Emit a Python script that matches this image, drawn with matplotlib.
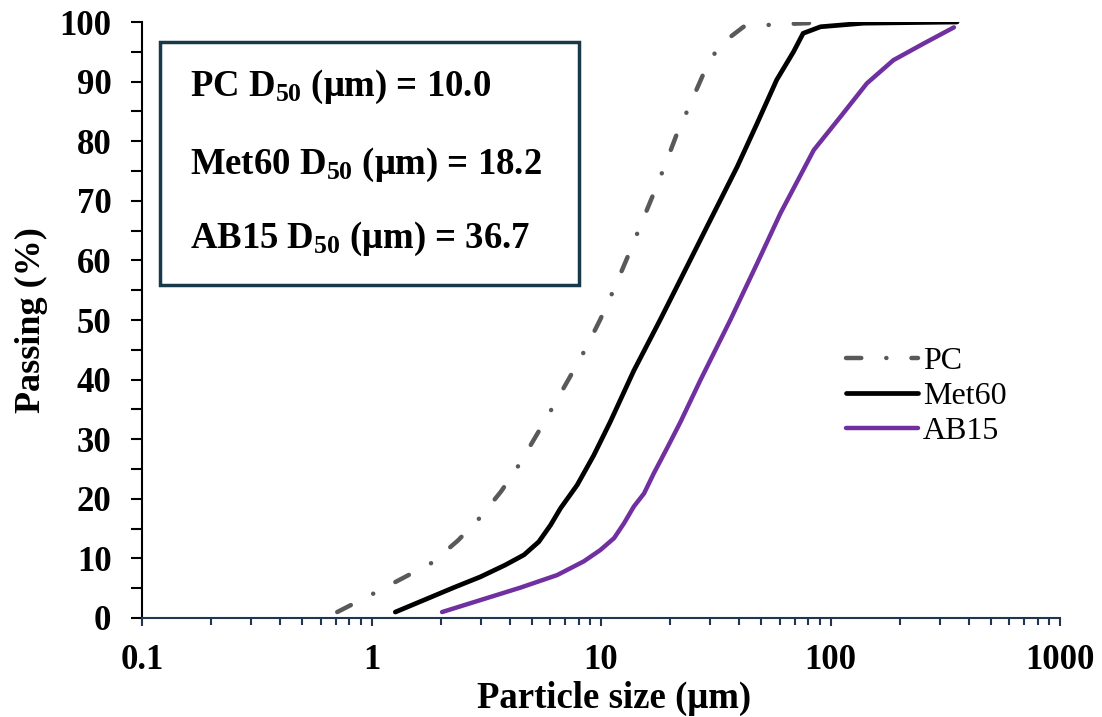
import matplotlib.pyplot as plt
from matplotlib.patches import Rectangle
from matplotlib.ticker import MultipleLocator, LogLocator, NullFormatter, FixedFormatter, FixedLocator

plt.rcParams['font.family'] = ['Liberation Serif', 'DejaVu Serif']
plt.rcParams['mathtext.fontset'] = 'custom'
plt.rcParams['mathtext.rm'] = 'Liberation Serif'
plt.rcParams['mathtext.bf'] = 'Liberation Serif:bold'
plt.rcParams['lines.scale_dashes'] = False

# particle size (um) and cumulative passing (%)
pc_size = [0.709, 1.02, 1.37, 1.84, 2.38, 2.98, 3.68, 4.41, 5.24, 6.19, 7.31, 8.55, 9.93,
           11.4, 13.0, 14.7, 16.7, 18.9, 21.3, 24.4, 27.8, 32.6, 41.8, 58.0, 79.3, 100]
pc_pass = [1.0, 4.1, 6.7, 9.3, 13.0, 16.9, 21.3, 25.8, 30.7, 35.5, 40.4, 45.1, 50.1,
           55.2, 60.4, 65.4, 70.6, 75.7, 81.0, 86.1, 91.1, 96.0, 99.2, 99.6, 99.8, 100]

met_size = [1.27, 1.69, 2.28, 2.98, 3.83, 4.62, 5.36, 6.03, 6.66, 7.87, 9.30, 10.97, 13.9,
            18.2, 22.2, 29.0, 39.2, 47.9, 58.3, 69.0, 76.0, 90.5, 139, 356]
met_pass = [1.0, 3.0, 5.1, 6.9, 8.9, 10.6, 12.8, 15.6, 18.4, 22.3, 27.3, 32.9, 41.5,
            50.2, 56.8, 65.7, 75.7, 83.0, 90.3, 95.0, 98.1, 99.2, 99.8, 100]

ab_size = [2.03, 2.98, 4.46, 6.44, 8.41, 9.93, 11.4, 12.6, 13.9, 15.4, 17.0, 19.4, 22.2,
           27.1, 36.6, 47.9, 60.5, 84.5, 110.5, 144, 188, 255, 345]
ab_pass = [1.0, 3.0, 5.1, 7.2, 9.5, 11.4, 13.4, 15.9, 18.7, 20.9, 24.3, 28.5, 32.9,
           39.9, 50.0, 59.5, 67.9, 78.5, 84.1, 89.7, 93.6, 96.4, 99.1]

d50_lines = [r'PC $\mathbf{D_{50}}$ (μm) = 10.0',
             r'Met60 $\mathbf{D_{50}}$ (μm) = 18.2',
             r'AB15 $\mathbf{D_{50}}$ (μm) = 36.7']

fig = plt.figure(figsize=(11.02, 7.17), dpi=100)
ax = fig.add_axes([142/1102, 1 - 618/717, 918/1102, 596/717])

ax.plot(pc_size, pc_pass, color='#595959', lw=3.2, linestyle=(0, (11, 18, 0.1, 18)),
        dash_capstyle='round', label='PC')
ax.plot(met_size, met_pass, color='black', lw=3.4, solid_capstyle='round', label='Met60')
ax.plot(ab_size, ab_pass, color='#7030A0', lw=3.2, solid_capstyle='round', label='AB15')

ax.set_xscale('log')
ax.set_xlim(0.1, 1000)
ax.set_ylim(0, 100)
ax.xaxis.set_major_locator(FixedLocator([0.1, 1, 10, 100, 1000]))
ax.xaxis.set_major_formatter(FixedFormatter(['0.1', '1', '10', '100', '1000']))
ax.xaxis.set_minor_locator(LogLocator(base=10, subs=range(2, 10)))
ax.xaxis.set_minor_formatter(NullFormatter())
ax.yaxis.set_major_locator(MultipleLocator(10))
ax.yaxis.set_minor_locator(MultipleLocator(5))

for s in ['top', 'right']:
    ax.spines[s].set_visible(False)
ax.spines['left'].set_linewidth(1.5)
ax.spines['bottom'].set_linewidth(1.5)
ax.spines['bottom'].set_color('#1f3550')

ax.tick_params(axis='y', which='major', direction='out', length=8, width=1.5, pad=14,
               labelsize=25)
ax.tick_params(axis='y', which='minor', direction='out', length=8, width=1.5)
ax.tick_params(axis='x', which='major', direction='out', length=6, width=1.5, pad=13,
               labelsize=25, color='#1f3550')
ax.tick_params(axis='x', which='minor', direction='out', length=5, width=1.5, color='#1f3550')
for lbl in ax.get_xticklabels() + ax.get_yticklabels():
    lbl.set_fontweight('bold')

ax.set_xlabel('Particle size (μm)', fontsize=26.5, fontweight='bold')
ax.set_ylabel('Passing (%)', fontsize=26, fontweight='bold')
ax.xaxis.set_label_coords(0.514, -0.105)
ax.yaxis.set_label_coords(-0.102, 0.5)

ax.add_patch(Rectangle((18/918, 333/596), 419/918, 243/596, transform=ax.transAxes,
                       fill=False, edgecolor='#17394a', lw=2.5, clip_on=False))
for txt, yb in zip(d50_lines, [0.876, 0.745, 0.621]):
    ax.text(48/918, yb, txt, transform=ax.transAxes, fontsize=26.5, fontweight='bold',
            va='baseline', ha='left')

ax.legend(loc='upper left', bbox_to_anchor=(704/918, 0.455), frameon=False,
          fontsize=23, borderpad=0, borderaxespad=0, handlelength=2.26,
          handletextpad=0.15, labelspacing=0.18)

fig.savefig('out.png', dpi=100)
